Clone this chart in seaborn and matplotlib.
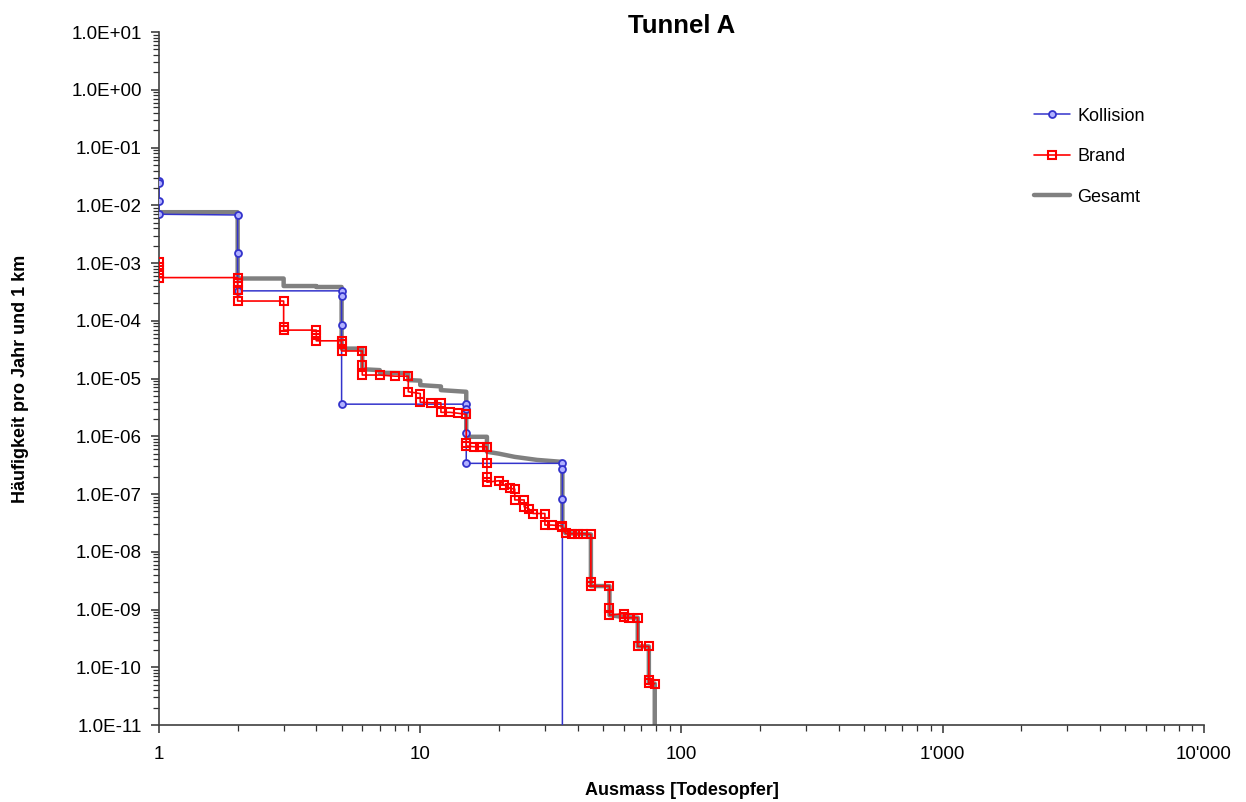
import numpy as np
import pandas as pd
import seaborn as sns
import matplotlib.pyplot as plt
from matplotlib.ticker import FixedLocator, LogLocator, NullFormatter, FuncFormatter

# Kollision
koll_n = [1, 1, 1, 1, 2, 2, 2, 5, 5, 5, 5, 15, 15, 15, 15, 35, 35, 35, 35]
koll_f = [2.66e-2, 2.46e-2, 1.17e-2, 7.0e-3, 6.8e-3, 1.5e-3, 3.3e-4, 3.3e-4, 2.7e-4, 8.4e-5,
          3.6e-6, 3.6e-6, 2.96e-6, 1.14e-6, 3.4e-7, 3.4e-7, 2.7e-7, 8.2e-8, 0]

# Brand
brand_n = [1, 1, 1, 1, 2, 2, 2, 2, 3, 3, 3, 4, 4, 4, 5, 5, 5, 6, 6, 6, 7, 8, 9, 9, 10, 10,
           11, 12, 12, 13, 14, 15, 15, 15, 16, 17, 18, 18, 18, 18, 20, 21, 22, 23, 23, 25,
           25, 26, 27, 30, 30, 32, 35, 35, 36, 38, 40, 42, 45, 45, 45, 53, 53, 53, 60, 60,
           63, 68, 68, 75, 75, 75, 79]
brand_f = [1.05e-3, 8.6e-4, 6.6e-4, 5.6e-4, 5.6e-4, 4.5e-4, 3.4e-4, 2.2e-4, 2.2e-4, 7.9e-5,
           6.9e-5, 6.9e-5, 5.6e-5, 4.5e-5, 4.5e-5, 4.0e-5, 3.0e-5, 3.0e-5, 1.7e-5, 1.15e-5,
           1.15e-5, 1.1e-5, 1.1e-5, 5.9e-6, 5.5e-6, 3.9e-6, 3.8e-6, 3.8e-6, 2.6e-6, 2.6e-6,
           2.5e-6, 2.4e-6, 7.6e-7, 6.8e-7, 6.6e-7, 6.6e-7, 6.6e-7, 3.4e-7, 2.0e-7, 1.6e-7,
           1.7e-7, 1.43e-7, 1.26e-7, 1.22e-7, 7.9e-8, 7.9e-8, 6.0e-8, 5.6e-8, 4.6e-8, 4.6e-8,
           2.9e-8, 2.9e-8, 2.8e-8, 2.7e-8, 2.08e-8, 2.05e-8, 2.05e-8, 2.05e-8, 2.0e-8, 3.0e-9,
           2.55e-9, 2.55e-9, 1.05e-9, 8.0e-10, 8.5e-10, 7.4e-10, 7.2e-10, 7.2e-10, 2.3e-10,
           2.3e-10, 6.0e-11, 5.3e-11, 5.2e-11]

# Gesamt
ges_n = [1, 2, 2, 3, 3, 4, 4, 5, 5, 6, 6, 7, 7, 9, 9, 10, 10, 12, 12, 15, 15, 18, 18, 20,
         23, 28, 35, 35, 36, 45, 45, 53, 53, 60, 68, 68, 75, 75, 79, 79]
ges_f = [7.6e-3, 7.6e-3, 5.4e-4, 5.4e-4, 4.0e-4, 4.0e-4, 3.85e-4, 3.85e-4, 3.3e-5, 3.3e-5,
         1.45e-5, 1.4e-5, 1.26e-5, 1.24e-5, 9.4e-6, 9.2e-6, 7.7e-6, 7.3e-6, 6.3e-6, 5.9e-6,
         9.8e-7, 9.8e-7, 5.4e-7, 5.0e-7, 4.4e-7, 3.9e-7, 3.6e-7, 2.7e-8, 2.1e-8, 2.0e-8,
         2.55e-9, 2.55e-9, 8.0e-10, 7.4e-10, 7.2e-10, 2.3e-10, 2.3e-10, 5.3e-11, 5.2e-11, 0]

x_ticks = [1, 10, 100, 1000, 10000]
x_labels = ["1", "10", "100", "1'000", "10'000"]

sns.set_style("white")
plt.rcParams['font.family'] = ['Liberation Sans', 'DejaVu Sans']
plt.rcParams['text.color'] = 'black'
plt.rcParams['axes.labelcolor'] = 'black'
plt.rcParams['xtick.color'] = 'black'
plt.rcParams['ytick.color'] = 'black'

fig = plt.figure(figsize=(12.46, 8.02), dpi=100)
ax = fig.add_axes([0.1276, 0.096, 0.8387, 0.864])

sns.lineplot(x=ges_n, y=ges_f, sort=False, estimator=None, ax=ax, color="#808080",
             lw=3.2, label="Gesamt", zorder=2)
sns.lineplot(x=koll_n, y=koll_f, sort=False, estimator=None, ax=ax, color="#3333cc",
             lw=1.1, marker="o", ms=5, mfc="#b0b0ff", mec="#3333cc", mew=1.3,
             label="Kollision", zorder=3)
sns.lineplot(x=brand_n, y=brand_f, sort=False, estimator=None, ax=ax, color="#ff0000",
             lw=1.2, marker="s", ms=6, mfc="none", mec="#ff0000", mew=1.5,
             label="Brand", zorder=4)

ax.set_xscale("log")
ax.set_yscale("log", nonpositive="clip")
ax.set_xlim(1, 10000)
ax.set_ylim(1e-11, 1e1)

ax.xaxis.set_major_locator(FixedLocator(x_ticks))
ax.set_xticklabels(x_labels)
ax.xaxis.set_minor_locator(LogLocator(base=10, subs=np.arange(2, 10)))
ax.xaxis.set_minor_formatter(NullFormatter())
ax.yaxis.set_major_locator(LogLocator(base=10, numticks=20))
ax.yaxis.set_minor_locator(LogLocator(base=10, subs=np.arange(2, 10), numticks=20))
ax.yaxis.set_minor_formatter(NullFormatter())
ax.yaxis.set_major_formatter(FuncFormatter(lambda v, p: "%.1E" % v))

for s in ["top", "right"]:
    ax.spines[s].set_visible(False)
for s in ["left", "bottom"]:
    ax.spines[s].set_color("#404040")
    ax.spines[s].set_linewidth(1.2)

ax.tick_params(axis="both", which="major", direction="out", length=6, width=1.1,
               color="#303030", labelsize=13.5, bottom=True, left=True)
ax.tick_params(axis="both", which="minor", direction="out", length=4, width=0.9,
               color="#303030", bottom=True, left=True)
ax.tick_params(axis="y", which="major", pad=6.5)
ax.tick_params(axis="x", which="major", pad=9)

ax.set_title("Tunnel A", fontsize=18.5, fontweight="bold", y=1.0, pad=-1)
ax.set_xlabel("Ausmass [Todesopfer]", fontsize=13, fontweight="bold", labelpad=14)
ax.set_ylabel("Häufigkeit pro Jahr und 1 km", fontsize=13, fontweight="bold", labelpad=30)

handles, labels = ax.get_legend_handles_labels()
order = [labels.index(l) for l in ["Kollision", "Brand", "Gesamt"]]
ax.legend([handles[i] for i in order], [labels[i] for i in order], loc="upper left",
          bbox_to_anchor=(0.837, 0.891), frameon=False, fontsize=13, labelspacing=1.3,
          handlelength=2.0, handletextpad=0.4, borderpad=0, borderaxespad=0)

fig.savefig("out.png", dpi=100)
